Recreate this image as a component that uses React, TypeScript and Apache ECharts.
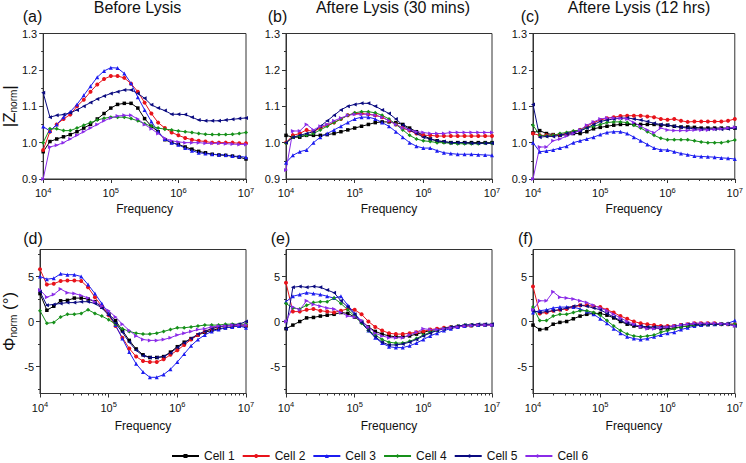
import React, { useEffect, useRef } from 'react';
import * as echarts from 'echarts';

const FONT = '"Liberation Sans", Arial, Helvetica, sans-serif';

// Frequency points (Hz), 10 per decade
const freq = [10000, 12589, 15849, 19953, 25119, 31623, 39811, 50119, 63096, 79433,
  100000, 125893, 158489, 199526, 251189, 316228, 398107, 501187, 630957, 794328,
  1000000, 1258925, 1584893, 1995262, 2511886, 3162278, 3981072, 5011872, 6309573, 7943282, 10000000];

const cellNames = ['Cell 1', 'Cell 2', 'Cell 3', 'Cell 4', 'Cell 5', 'Cell 6'];
const cellColors = ['#000000', '#e8131b', '#1c1cf0', '#16901a', '#0a0a80', '#8a2be8'];
const cellSymbols = ['rect', 'circle', 'triangle', 'diamond', 'triangle', 'triangle'];
const cellRotate = [0, 0, 0, 0, 90, -90];

const panelTitles = ['Before Lysis', 'Aftere Lysis (30 mins)', 'Aftere Lysis (12 hrs)'];
const panelLetters = ['(a)', '(b)', '(c)', '(d)', '(e)', '(f)'];

const majorFreqTicks = [10000, 100000, 1000000, 10000000];
const minorFreqTicks = [20000, 30000, 40000, 50000, 60000, 70000, 80000, 90000,
  200000, 300000, 400000, 500000, 600000, 700000, 800000, 900000,
  2000000, 3000000, 4000000, 5000000, 6000000, 7000000, 8000000, 9000000];
const phiLabelTicks = [-5, 0, 5];
const phiMinorTicks = [-7.5, -2.5, 2.5, 7.5];

// |Z_norm| before lysis (a)
const zBefore = [
  [0.975, 1.003, 1.01, 1.016, 1.022, 1.03, 1.04, 1.05, 1.065, 1.08, 1.095, 1.105, 1.108, 1.108, 1.095, 1.066, 1.045, 1.03, 1.008, 1.0, 0.995, 0.988, 0.982, 0.976, 0.972, 0.968, 0.966, 0.965, 0.963, 0.96, 0.955],
  [0.98, 1.03, 1.05, 1.065, 1.077, 1.1, 1.118, 1.14, 1.16, 1.175, 1.183, 1.183, 1.178, 1.162, 1.14, 1.11, 1.08, 1.055, 1.04, 1.028, 1.02, 1.013, 1.008, 1.005, 1.003, 1.0, 1.0, 1.0, 1.0, 0.998, 0.998],
  [1.044, 1.032, 1.05, 1.07, 1.085, 1.105, 1.13, 1.155, 1.18, 1.197, 1.206, 1.205, 1.19, 1.163, 1.125, 1.09, 1.058, 1.03, 1.01, 1.0, 0.994, 0.985, 0.978, 0.972, 0.97, 0.968, 0.967, 0.966, 0.963, 0.962, 0.96],
  [1.0, 1.038, 1.038, 1.033, 1.033, 1.04, 1.048, 1.055, 1.062, 1.067, 1.07, 1.07, 1.07, 1.066, 1.06, 1.052, 1.045, 1.04, 1.037, 1.035, 1.032, 1.03, 1.028, 1.025, 1.023, 1.022, 1.022, 1.022, 1.023, 1.025, 1.028],
  [1.137, 1.07, 1.075, 1.077, 1.082, 1.09, 1.1, 1.11, 1.12, 1.128, 1.135, 1.14, 1.145, 1.145, 1.135, 1.122, 1.104, 1.095, 1.088, 1.078, 1.078, 1.077, 1.07, 1.062, 1.06, 1.06, 1.06, 1.062, 1.064, 1.066, 1.068],
  [0.9, 0.988, 0.993, 1.0, 1.01, 1.02, 1.03, 1.04, 1.05, 1.06, 1.068, 1.073, 1.075, 1.075, 1.065, 1.05, 1.038, 1.025, 1.012, 1.005, 1.002, 1.0, 1.0, 1.0, 0.998, 0.998, 0.998, 0.997, 0.996, 0.995, 0.995],
];

// |Z_norm| after lysis, 30 mins (b)
const z30min = [
  [1.02, 1.015, 1.015, 1.02, 1.02, 1.02, 1.022, 1.025, 1.03, 1.035, 1.04, 1.045, 1.05, 1.055, 1.057, 1.057, 1.055, 1.05, 1.04, 1.03, 1.02, 1.01, 1.005, 1.002, 1.0, 1.0, 1.0, 1.0, 1.0, 1.0, 1.0],
  [1.0, 1.02, 1.025, 1.035, 1.03, 1.04, 1.048, 1.055, 1.065, 1.075, 1.08, 1.08, 1.078, 1.075, 1.07, 1.06, 1.05, 1.04, 1.033, 1.025, 1.02, 1.02, 1.018, 1.018, 1.018, 1.018, 1.018, 1.018, 1.018, 1.018, 1.018],
  [0.945, 0.965, 0.975, 0.98, 1.0, 1.015, 1.025, 1.035, 1.045, 1.055, 1.065, 1.07, 1.07, 1.065, 1.055, 1.045, 1.03, 1.015, 1.0, 0.99, 0.985, 0.985, 0.978, 0.972, 0.97, 0.968, 0.968, 0.968, 0.967, 0.966, 0.965],
  [0.998, 1.015, 1.018, 1.02, 1.025, 1.035, 1.045, 1.055, 1.065, 1.075, 1.082, 1.085, 1.085, 1.082, 1.075, 1.065, 1.05, 1.035, 1.02, 1.01, 1.005, 1.003, 1.0, 1.0, 0.998, 0.997, 0.997, 0.997, 0.997, 0.998, 0.998],
  [1.0, 1.015, 1.02, 1.025, 1.03, 1.045, 1.06, 1.075, 1.09, 1.1, 1.105, 1.108, 1.108, 1.1, 1.09, 1.08, 1.065, 1.048, 1.035, 1.025, 1.015, 1.01, 1.005, 1.003, 1.0, 1.0, 1.0, 0.998, 0.998, 0.998, 0.998],
  [0.925, 1.032, 1.032, 1.05, 1.035, 1.045, 1.05, 1.06, 1.068, 1.075, 1.078, 1.078, 1.078, 1.075, 1.07, 1.06, 1.05, 1.04, 1.035, 1.03, 1.028, 1.025, 1.025, 1.025, 1.028, 1.028, 1.028, 1.028, 1.028, 1.028, 1.028],
];

// |Z_norm| after lysis, 12 hrs (c)
const z12hrs = [
  [1.027, 1.033, 1.025, 1.022, 1.02, 1.022, 1.025, 1.025, 1.03, 1.038, 1.042, 1.045, 1.048, 1.05, 1.05, 1.05, 1.05, 1.05, 1.05, 1.048, 1.048, 1.045, 1.043, 1.043, 1.042, 1.04, 1.04, 1.04, 1.04, 1.04, 1.04],
  [1.025, 1.02, 1.02, 1.02, 1.022, 1.025, 1.03, 1.035, 1.045, 1.055, 1.062, 1.067, 1.07, 1.073, 1.074, 1.074, 1.074, 1.072, 1.07, 1.065, 1.063, 1.065, 1.06, 1.057, 1.058, 1.058, 1.058, 1.058, 1.058, 1.06, 1.065],
  [1.0, 0.975, 0.977, 0.98, 0.985, 0.99, 1.0, 1.005, 1.01, 1.015, 1.022, 1.028, 1.03, 1.03, 1.025, 1.015, 1.005, 0.995, 0.985, 0.98, 0.98, 0.975, 0.97, 0.967, 0.963, 0.962, 0.961, 0.96, 0.958, 0.957, 0.955],
  [1.048, 1.02, 1.018, 1.02, 1.025, 1.028, 1.032, 1.035, 1.04, 1.045, 1.05, 1.055, 1.057, 1.057, 1.055, 1.048, 1.04, 1.03, 1.02, 1.012, 1.008, 1.008, 1.008, 1.008, 1.005, 1.002, 1.0, 1.0, 1.0, 1.003, 1.007],
  [1.105, 1.015, 1.017, 1.017, 1.02, 1.025, 1.028, 1.032, 1.04, 1.05, 1.058, 1.062, 1.065, 1.067, 1.068, 1.065, 1.062, 1.058, 1.053, 1.05, 1.048, 1.045, 1.042, 1.04, 1.038, 1.037, 1.037, 1.037, 1.037, 1.038, 1.04],
  [0.9, 0.988, 0.988, 1.005, 1.01, 1.018, 1.025, 1.035, 1.048, 1.057, 1.065, 1.068, 1.068, 1.067, 1.065, 1.055, 1.045, 1.035, 1.027, 1.04, 1.035, 1.033, 1.033, 1.033, 1.035, 1.035, 1.035, 1.037, 1.038, 1.04, 1.042],
];

// Phi_norm before lysis (d)
const pBefore = [
  [3.1, 1.25, 1.7, 2.3, 2.35, 2.6, 2.6, 2.5, 2.2, 1.6, 0.8, 0.1, -1.0, -2.1, -3.05, -3.7, -4.0, -4.0, -3.9, -3.4, -2.8, -2.3, -1.9, -1.5, -1.2, -1.0, -0.8, -0.7, -0.6, -0.5, -0.5],
  [5.8, 4.1, 4.2, 4.5, 4.55, 4.55, 4.5, 3.8, 2.7, 1.7, 0.7, -0.5, -1.8, -3.0, -3.9, -4.4, -4.5, -4.5, -4.2, -3.7, -3.2, -2.6, -2.0, -1.5, -1.1, -0.8, -0.6, -0.5, -0.45, -0.4, -0.4],
  [5.0, 4.7, 4.8, 5.3, 5.2, 5.2, 5.0, 4.1, 3.1, 2.0, 0.9, -0.4, -1.9, -3.4, -4.7, -5.6, -6.2, -6.2, -5.9, -5.3, -4.5, -3.6, -2.7, -2.0, -1.5, -1.1, -0.9, -0.7, -0.6, -0.5, -0.7],
  [1.2, -0.2, -0.1, 0.5, 0.8, 0.8, 0.9, 1.3, 0.9, 0.6, 0.2, -0.3, -0.8, -1.1, -1.3, -1.4, -1.4, -1.3, -1.1, -0.9, -0.7, -0.7, -0.6, -0.5, -0.4, -0.4, -0.4, -0.3, -0.3, -0.3, -0.3],
  [3.3, 1.8, 1.9, 2.0, 2.1, 2.1, 2.2, 2.2, 2.0, 1.5, 0.7, -0.2, -1.2, -2.3, -3.2, -3.8, -4.0, -4.0, -3.9, -3.5, -2.9, -2.4, -1.9, -1.4, -1.1, -0.8, -0.6, -0.5, -0.4, -0.3, 0.0],
  [3.5, 2.7, 3.0, 3.6, 3.2, 3.1, 2.9, 2.6, 2.2, 1.7, 1.2, 0.5, -0.3, -1.0, -1.6, -2.0, -2.1, -2.1, -2.0, -1.8, -1.5, -1.3, -1.1, -0.9, -0.8, -0.6, -0.5, -0.5, -0.4, -0.4, -0.4],
];

// Phi_norm after lysis, 30 mins (e)
const p30min = [
  [-0.8, -0.4, 0.0, 0.4, 0.45, 0.6, 0.7, 0.8, 1.0, 0.9, 0.5, 0.0, -0.6, -1.1, -1.4, -1.6, -1.7, -1.7, -1.6, -1.4, -1.2, -1.0, -0.9, -0.8, -0.7, -0.6, -0.5, -0.45, -0.4, -0.35, -0.35],
  [4.3, 1.1, 1.1, 1.3, 1.4, 1.2, 1.1, 1.0, 1.2, 1.4, 1.3, 0.8, 0.0, -0.6, -1.0, -1.3, -1.4, -1.4, -1.3, -1.2, -1.1, -0.9, -0.8, -0.7, -0.6, -0.55, -0.5, -0.45, -0.4, -0.4, -0.4],
  [2.2, 2.8, 3.0, 3.2, 3.1, 3.0, 2.8, 2.6, 2.8, 1.8, 0.9, 0.0, -1.0, -1.8, -2.4, -2.8, -2.9, -2.9, -2.7, -2.4, -2.0, -1.6, -1.3, -1.0, -0.8, -0.6, -0.5, -0.4, -0.4, -0.35, -0.35],
  [2.0, 1.5, 1.4, 1.8, 2.1, 2.2, 2.2, 2.6, 2.0, 1.3, 0.6, -0.2, -1.0, -1.5, -2.0, -2.3, -2.4, -2.4, -2.2, -1.9, -1.5, -1.2, -1.0, -0.8, -0.6, -0.5, -0.4, -0.4, -0.35, -0.35, -0.35],
  [-0.8, 3.8, 3.9, 3.8, 3.9, 3.8, 3.5, 3.2, 2.3, 1.6, 0.8, -0.1, -1.0, -1.7, -2.3, -2.6, -2.6, -2.5, -2.3, -2.0, -1.6, -1.3, -1.0, -0.8, -0.6, -0.5, -0.4, -0.35, -0.3, -0.3, -0.3],
  [0.0, 1.6, 1.3, 2.3, 1.9, 1.7, 1.5, 1.4, 1.0, 0.6, 0.5, 0.1, -0.6, -1.3, -1.6, -1.8, -1.8, -1.8, -1.5, -1.2, -0.8, -0.9, -0.9, -0.8, -0.7, -0.6, -0.5, -0.45, -0.4, -0.4, -0.4],
];

// Phi_norm after lysis, 12 hrs (f)
const p12hrs = [
  [-0.4, -0.9, -0.8, -0.3, -0.1, 0.0, 0.3, 0.6, 0.8, 0.9, 0.9, 0.7, 0.4, 0.0, -0.3, -0.5, -0.6, -0.7, -0.7, -0.8, -0.8, -0.7, -0.6, -0.5, -0.4, -0.4, -0.35, -0.3, -0.3, -0.3, -0.4],
  [3.9, 0.9, 1.0, 1.2, 1.3, 1.4, 1.6, 1.8, 1.8, 1.7, 1.6, 1.3, 1.0, 0.6, 0.3, 0.0, -0.2, -0.3, -0.4, -0.5, -0.5, -0.5, -0.4, -0.3, -0.2, -0.2, -0.2, -0.2, -0.3, -0.3, -0.3],
  [1.0, 1.2, 1.3, 1.5, 1.6, 1.6, 1.6, 1.4, 1.1, 0.8, 0.3, -0.2, -0.8, -1.3, -1.7, -1.9, -2.0, -1.9, -1.7, -1.5, -1.3, -1.2, -0.9, -0.7, -0.5, -0.4, -0.3, -0.3, -0.25, -0.2, 0.1],
  [1.6, 0.1, 0.1, 0.6, 0.8, 0.8, 1.0, 1.2, 1.2, 1.0, 0.7, 0.1, -0.5, -1.0, -1.4, -1.6, -1.7, -1.6, -1.5, -1.2, -1.0, -0.8, -0.6, -0.5, -0.4, -0.3, -0.3, -0.3, -0.3, -0.3, -0.3],
  [1.2, 1.0, 1.1, 1.2, 1.3, 1.5, 1.7, 1.8, 1.7, 1.5, 1.3, 0.9, 0.5, 0.1, -0.2, -0.4, -0.5, -0.6, -0.6, -0.6, -0.6, -0.5, -0.4, -0.3, -0.3, -0.3, -0.3, -0.3, -0.3, -0.3, -0.5],
  [1.3, 2.3, 2.3, 3.3, 2.7, 2.6, 2.5, 2.3, 2.1, 1.8, 1.5, 1.2, 0.8, 0.4, 0.0, -0.3, -0.6, -0.8, -0.8, -0.7, -0.6, -0.5, -0.4, -0.3, -0.2, -0.2, -0.2, -0.2, -0.25, -0.3, -0.5],
];

const AXIS_COLOR = '#333';
const TEXT_COLOR = '#111';

function buildOption() {
  const panels = [zBefore, z30min, z12hrs, pBefore, p30min, p12hrs];
  const lefts = [40, 286, 533];
  const tops = [33.5, 249.5];
  const heights = [145.5, 144];
  const grid: any[] = [];
  const xAxis: any[] = [];
  const yAxis: any[] = [];
  const series: any[] = [];
  const extraY: any[] = [];

  panels.forEach((vals, g) => {
    const row = g < 3 ? 0 : 1;
    const col = g % 3;
    grid.push({
      left: lefts[col], top: tops[row], width: 206, height: heights[row],
      show: true, borderColor: AXIS_COLOR, borderWidth: 1, backgroundColor: 'transparent',
    });
    xAxis.push({
      type: 'log', logBase: 10, gridIndex: g, min: 10000, max: 10000000, position: 'bottom',
      name: 'Frequency', nameLocation: 'middle', nameGap: row === 0 ? 24 : 26,
      nameTextStyle: { fontSize: 12, fontFamily: FONT, color: TEXT_COLOR },
      axisLine: { show: true, onZero: false, lineStyle: { color: AXIS_COLOR, width: 1 } },
      axisTick: { show: true, length: 4, inside: false, customValues: majorFreqTicks, lineStyle: { color: AXIS_COLOR } },
      axisLabel: {
        customValues: majorFreqTicks, margin: 7, color: TEXT_COLOR, fontFamily: FONT, fontSize: 11,
        formatter: (v: number) => `{b|10}{s|${Math.round(Math.log10(v))}}`,
        rich: {
          b: { fontSize: 11, fontFamily: FONT, color: TEXT_COLOR, lineHeight: 14 },
          s: { fontSize: 7.5, fontFamily: FONT, color: TEXT_COLOR, verticalAlign: 'top', lineHeight: 8 },
        },
      },
      splitLine: { show: false },
    });
    xAxis.push({
      type: 'log', logBase: 10, gridIndex: g, min: 10000, max: 10000000, position: 'bottom',
      axisLine: { show: false, onZero: false },
      axisTick: { show: true, length: 2, inside: false, customValues: minorFreqTicks, lineStyle: { color: AXIS_COLOR } },
      axisLabel: { show: false },
      splitLine: { show: false },
    });

    const yBase: any = {
      type: 'value', gridIndex: g, position: 'left',
      axisLine: { show: true, onZero: false, lineStyle: { color: AXIS_COLOR, width: 1 } },
      splitLine: { show: false },
      nameLocation: 'middle', nameRotate: 90,
    };
    if (row === 0) {
      yAxis.push({
        ...yBase, min: 0.9, max: 1.3, interval: 0.1,
        axisTick: { show: true, length: 4, inside: false, lineStyle: { color: AXIS_COLOR } },
        minorTick: { show: true, splitNumber: 2, length: 2, lineStyle: { color: AXIS_COLOR } },
        axisLabel: { margin: 6, color: TEXT_COLOR, fontFamily: FONT, fontSize: 11, formatter: (v: number) => v.toFixed(1) },
        name: g === 0 ? '|Z{sub|norm}|' : '',
        nameGap: 22,
        nameTextStyle: {
          fontSize: 17, fontFamily: FONT, color: TEXT_COLOR,
          rich: { sub: { fontSize: 10, fontFamily: FONT, color: TEXT_COLOR, verticalAlign: 'bottom' } },
        },
      });
    } else {
      yAxis.push({
        ...yBase, min: -8, max: 8,
        axisTick: { show: true, length: 4, inside: false, customValues: phiLabelTicks, lineStyle: { color: AXIS_COLOR } },
        axisLabel: { customValues: phiLabelTicks, margin: 6, color: TEXT_COLOR, fontFamily: FONT, fontSize: 11 },
        name: g === 3 ? 'Φ{sub|norm} (°)' : '',
        nameGap: 22,
        nameTextStyle: {
          fontSize: 17, fontFamily: FONT, color: TEXT_COLOR,
          rich: { sub: { fontSize: 10, fontFamily: FONT, color: TEXT_COLOR, verticalAlign: 'bottom' } },
        },
      });
      extraY.push({
        type: 'value', gridIndex: g, min: -8, max: 8, position: 'left',
        axisLine: { show: false, onZero: false },
        axisTick: { show: true, length: 2, inside: false, customValues: phiMinorTicks, lineStyle: { color: AXIS_COLOR } },
        axisLabel: { show: false },
        splitLine: { show: false },
      });
    }

    vals.forEach((arr, c) => {
      series.push({
        type: 'line', name: cellNames[c], xAxisIndex: 2 * g, yAxisIndex: g,
        data: freq.map((f, i) => [f, arr[i]]),
        symbol: cellSymbols[c], symbolRotate: cellRotate[c],
        symbolSize: c === 0 ? 3.5 : 4,
        showSymbol: true, silent: true,
        lineStyle: { width: 1, color: cellColors[c] },
        itemStyle: { color: cellColors[c] },
      });
    });
  });

  const graphic: any[] = [];
  const titleX = [137.5, 393, 639];
  panelTitles.forEach((t, i) => {
    graphic.push({
      type: 'text', x: titleX[i], y: 7,
      style: { text: t, fontSize: 16, fontFamily: FONT, fill: TEXT_COLOR, align: 'center', verticalAlign: 'middle' },
    });
  });
  const letterX = [32.5, 277.5, 530, 33, 280.5, 525.5];
  const letterY = [16, 16, 16, 238, 238, 238];
  panelLetters.forEach((t, i) => {
    graphic.push({
      type: 'text', x: letterX[i], y: letterY[i],
      style: { text: t, fontSize: 16, fontFamily: FONT, fill: TEXT_COLOR, align: 'center', verticalAlign: 'middle' },
    });
  });

  return {
    animation: false,
    backgroundColor: '#ffffff',
    grid,
    xAxis,
    yAxis: [...yAxis, ...extraY],
    series,
    graphic,
    legend: {
      data: cellNames, left: 166, top: 445, orient: 'horizontal', padding: 5,
      itemWidth: 27, itemHeight: 5, itemGap: 7,
      textStyle: { fontSize: 12, fontFamily: FONT, color: TEXT_COLOR },
      selectedMode: false,
    },
  };
}

export default function App() {
  const ref = useRef<HTMLDivElement>(null);
  useEffect(() => {
    if (!ref.current) return;
    const chart = echarts.init(ref.current, undefined, { renderer: 'svg' });
    chart.setOption(buildOption() as any);
    return () => chart.dispose();
  }, []);
  return (
    <div
      ref={ref}
      style={{ position: 'absolute', left: 0, top: 0, width: 746, height: 463, background: '#fff' }}
    />
  );
}
